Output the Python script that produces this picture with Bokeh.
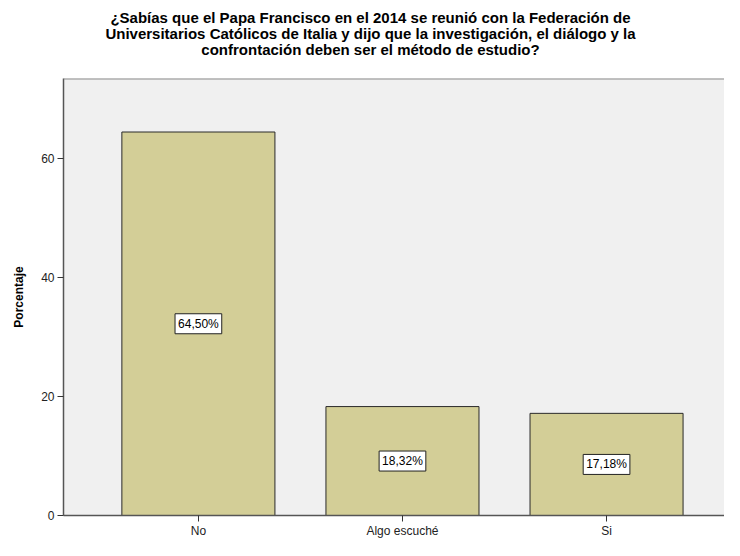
from bokeh.plotting import figure
from bokeh.layouts import column
from bokeh.models import Range1d, ColumnDataSource, Label, Span, FixedTicker
from bokeh.core.properties import value
from bokeh.embed import file_html
from bokeh.resources import INLINE

# ---- data ----
categories = ["No", "Algo escuché", "Si"]
percentages = [64.50, 18.32, 17.18]
value_labels = ["64,50%", "18,32%", "17,18%"]
y_ticks = [0, 20, 40, 60]
title_lines = [
    "¿Sabías que el Papa Francisco en el 2014 se reunió con la Federación de",
    "Universitarios Católicos de Italia y dijo que la investigación, el diálogo y la",
    "confrontación deben ser el método de estudio?",
]
y_label = "Porcentaje"

FONT = "Liberation Sans"
Y_MAX = 73.5
W = 724
LEFT = 63
TITLE_H = 74
MAIN_H = 540 - TITLE_H

# ---- title strip (its own small svg figure; its frame is aligned with the main frame) ----
t = figure(
    width=W, height=TITLE_H, output_backend="svg", toolbar_location=None,
    x_range=Range1d(LEFT, W), y_range=Range1d(0, TITLE_H),
    x_axis_type=None, y_axis_type=None,
    min_border_left=LEFT, min_border_right=0, min_border_top=0, min_border_bottom=0,
    outline_line_color=None,
    background_fill_color="white", border_fill_color="white",
)
t.grid.visible = False
title_baselines = [57.0, 41.0, 25.0]
for line, by in zip(title_lines, title_baselines):
    t.add_layout(Label(
        x=370, y=by, text=line,
        text_align="center", text_baseline="alphabetic",
        text_font=FONT, text_font_size="15px", text_font_style="bold",
        text_color="black",
    ))

# ---- main chart ----
x_pos = list(range(len(categories)))
src = ColumnDataSource(dict(
    x=x_pos,
    top=percentages,
    mid=[v / 2 for v in percentages],
    lab=value_labels,
))

p = figure(
    width=W, height=MAIN_H, output_backend="svg", toolbar_location=None,
    x_range=Range1d(-0.661, 2.578), y_range=Range1d(0, Y_MAX),
    min_border_left=LEFT, min_border_right=0, min_border_top=78 - TITLE_H,
    min_border_bottom=20,
    background_fill_color="#F0F0F0", border_fill_color="white",
    outline_line_color=None,
)
p.grid.visible = False

p.vbar(x="x", top="top", width=0.75, source=src,
       fill_color="#D3CE97", line_color="#2a2a2a", line_width=1)

p.text(x="x", y="mid", text="lab", source=src,
       text_align="center", text_baseline="middle",
       text_font=value(FONT), text_font_size="12px", text_color="black",
       background_fill_color="white", border_line_color="#222222",
       border_line_width=1, padding=3)

# top frame border
p.add_layout(Span(location=Y_MAX, dimension="width",
                  line_color="#8a8a8a", line_width=2))

# axes
p.xaxis.ticker = FixedTicker(ticks=x_pos)
p.xaxis.major_label_overrides = {i: c for i, c in enumerate(categories)}
p.yaxis.ticker = FixedTicker(ticks=y_ticks)
for ax in (p.xaxis[0], p.yaxis[0]):
    ax.axis_line_color = "#555555"
    ax.axis_line_width = 1.5
    ax.major_tick_line_color = "#333333"
    ax.major_tick_line_width = 1
    ax.major_tick_out = 6
    ax.major_tick_in = 0
    ax.minor_tick_line_color = None
    ax.major_label_text_font = FONT
    ax.major_label_text_font_size = "12px"
    ax.major_label_text_color = "#222222"
p.xaxis.major_label_standoff = 2
p.yaxis.major_label_standoff = 3
p.yaxis.axis_label = y_label
p.yaxis.axis_label_text_font = FONT
p.yaxis.axis_label_text_font_size = "12px"
p.yaxis.axis_label_text_font_style = "bold"
p.yaxis.axis_label_text_color = "black"
p.yaxis.axis_label_standoff = 12

layout = column(t, p, spacing=0)
open("out.html", "w").write(file_html(layout, INLINE))
